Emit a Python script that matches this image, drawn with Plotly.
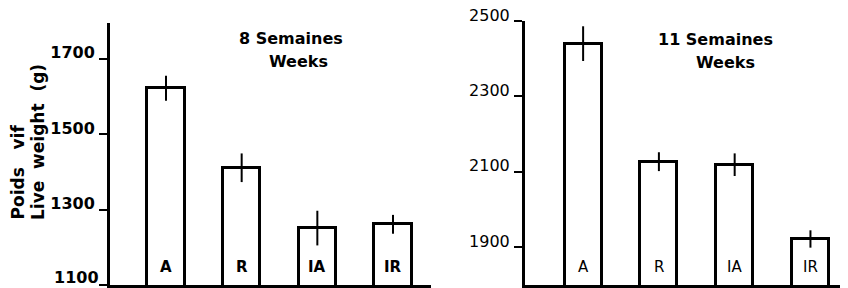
import plotly.graph_objects as go

# ---- data ----
categories = ["A", "R", "IA", "IR"]
weight_8wk = [1622, 1411, 1251, 1261]
err_8wk = [33, 38, 46, 25]
weight_11wk = [2440, 2127, 2119, 1922]
err_11wk = [46, 25, 30, 23]
ticks_8wk = [1100, 1300, 1500, 1700]
ticklabels_8wk = ["", "1300", "1500", "1700"]   # "1100" drawn separately at the bottom edge
bottom_label_8wk = "1100"
ticks_11wk = [1900, 2100, 2300, 2500]
range_8wk = [1100, 1795]
range_11wk = [1800, 2500]

W, H = 848, 288
FONT = "DejaVu Sans"

fig = go.Figure()

bar_style = dict(
    marker=dict(color="white", line=dict(color="black", width=3)),
    width=0.49,
    showlegend=False,
    hoverinfo="skip",
)

fig.add_trace(go.Bar(
    x=categories, y=weight_8wk, xaxis="x", yaxis="y",
    error_y=dict(type="data", array=err_8wk, visible=True, color="black", thickness=2, width=0),
    **bar_style,
))
fig.add_trace(go.Bar(
    x=categories, y=weight_11wk, xaxis="x2", yaxis="y2",
    error_y=dict(type="data", array=err_11wk, visible=True, color="black", thickness=2, width=0),
    **bar_style,
))

axis_common = dict(showline=True, linecolor="black", linewidth=3, showgrid=False,
                   zeroline=False, automargin=False)

fig.update_layout(
    width=W, height=H,
    autosize=False,
    margin=dict(l=0, r=0, t=0, b=0, pad=0, autoexpand=False),
    paper_bgcolor="white", plot_bgcolor="white",
    bargap=0,
    xaxis=dict(domain=[110 / W, 431 / W], type="category", categoryorder="array",
               categoryarray=categories, range=[-0.74, 3.502], showticklabels=False,
               ticks="", anchor="y", **axis_common),
    yaxis=dict(domain=[3 / H, 265 / H], range=range_8wk, tickvals=ticks_8wk,
               ticktext=ticklabels_8wk,
               ticks="outside", ticklen=8, tickwidth=2, tickcolor="black",
               ticklabelshift=-6, ticklabelstandoff=1,
               tickfont=dict(family=FONT, size=16, color="black", weight="bold"),
               anchor="x", **axis_common),
    xaxis2=dict(domain=[525 / W, 840 / W], type="category", categoryorder="array",
                categoryarray=categories, range=[-0.767, 3.39], showticklabels=False,
                ticks="", anchor="y2", **axis_common),
    yaxis2=dict(domain=[3 / H, 267 / H], range=range_11wk, tickvals=ticks_11wk,
                ticks="outside", ticklen=8, tickwidth=2, tickcolor="black",
                ticklabelshift=-6, ticklabelstandoff=1,
                tickfont=dict(family=FONT, size=16, color="black"),
                anchor="x2", **axis_common),
)

annotations = []
# bar labels inside bars
for c in categories:
    annotations.append(dict(x=c, y=range_8wk[0], xref="x", yref="y", text=c,
                            showarrow=False, yanchor="bottom", yshift=7,
                            font=dict(family=FONT, size=15, color="black", weight="bold")))
    annotations.append(dict(x=c, y=range_11wk[0], xref="x2", yref="y2", text=c,
                            showarrow=False, yanchor="bottom", yshift=7,
                            font=dict(family=FONT, size=15, color="black")))

# bottom tick label of the left axis (kept inside the page)
annotations.append(dict(x=0, y=range_8wk[0], xref="x domain", yref="y", text=bottom_label_8wk,
                        showarrow=False, xanchor="right", yanchor="bottom", xshift=-10,
                        yshift=-3, borderpad=0,
                        font=dict(family=FONT, size=16, color="black", weight="bold")))

title_font = dict(family=FONT, size=16, color="black", weight="bold")
for txt, x, y in [("8 Semaines", 291, 39), ("Weeks", 298, 61),
                  ("11 Semaines", 715, 40), ("Weeks", 725, 62)]:
    annotations.append(dict(x=x / W, y=1 - y / H, xref="paper", yref="paper", text=txt,
                            showarrow=False, xanchor="center", yanchor="middle",
                            font=title_font))

# y-axis title (two rotated lines, bottom-aligned)
for txt, x in [("Poids\u00a0\u00a0\u00a0vif", 17), ("Live\u00a0\u00a0weight\u00a0\u00a0(g)", 38)]:
    annotations.append(dict(x=x / W, y=1 - 222 / H, xref="paper", yref="paper", text=txt,
                            showarrow=False, textangle=-90, xanchor="center", yanchor="bottom",
                            font=dict(family=FONT, size=17, color="black", weight="bold")))

fig.update_layout(annotations=annotations)

fig.write_html(
    "out.html",
    config={"displayModeBar": False},
    post_script=(
        "var d=document.documentElement, b=document.body;"
        "d.style.margin='0'; d.style.padding='0'; d.style.overflow='hidden';"
        "b.style.margin='0'; b.style.padding='0'; b.style.overflow='hidden';"
    ),
)
